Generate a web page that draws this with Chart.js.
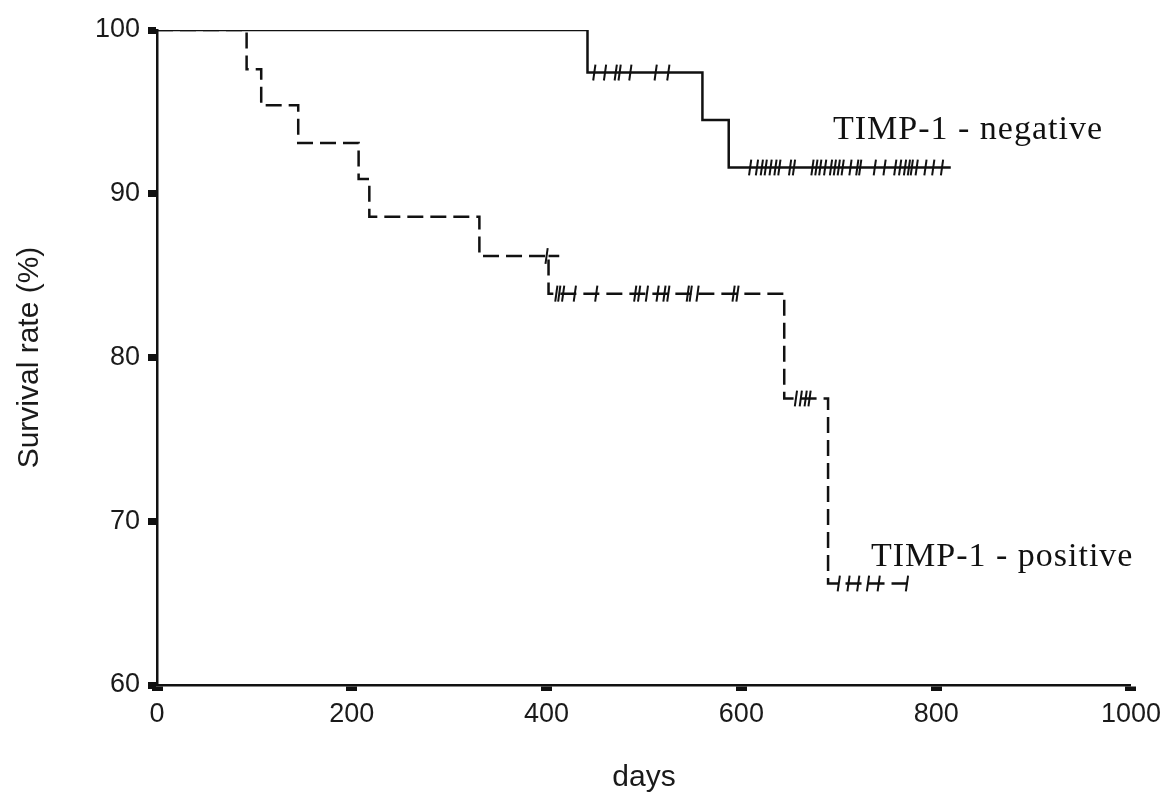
<!DOCTYPE html>
<html>
<head>
<meta charset="utf-8">
<title>TIMP-1 survival</title>
<script src="https://cdn.jsdelivr.net/npm/chart.js@4.4.1/dist/chart.umd.min.js"></script>
<style>
    html, body { margin: 0; padding: 0; background: #fff; }
    #chartWrap { width: 1168px; height: 796px; }
</style>
</head>
<body>
<div id="chartWrap"><canvas id="survivalChart" width="1168" height="796"></canvas></div>
<script>
// Kaplan-Meier steps (days, survival %)
const negDays = [0, 442, 560, 587, 815];
const negSurv = [100, 97.4, 94.5, 91.6, 91.6];
const posDays = [0, 92, 107, 145, 207, 218, 331, 402, 644, 689, 774];
const posSurv = [100, 97.6, 95.4, 93.1, 90.9, 88.6, 86.2, 83.9, 77.5, 66.2, 66.2];

// censored patients
const negCensorDays = [449, 460, 471, 475, 486, 512, 525,
    609, 616, 621, 625, 630, 635, 639, 650, 654, 673, 677, 681, 686, 692, 696,
    700, 704, 712, 719, 722, 737, 747, 758, 763, 768, 772, 775, 780, 789, 797, 806];
const negCensorSurv = [97.4, 97.4, 97.4, 97.4, 97.4, 97.4, 97.4,
    91.6, 91.6, 91.6, 91.6, 91.6, 91.6, 91.6, 91.6, 91.6, 91.6, 91.6, 91.6, 91.6, 91.6, 91.6,
    91.6, 91.6, 91.6, 91.6, 91.6, 91.6, 91.6, 91.6, 91.6, 91.6, 91.6, 91.6, 91.6, 91.6, 91.6, 91.6];
const posCensorDays = [400,
    410, 413, 417, 429, 451, 491, 495, 503, 514, 521, 525, 545, 548, 555, 592, 596,
    656, 661, 666, 670,
    700, 710, 720, 730, 741, 770];
const posCensorSurv = [86.2,
    83.9, 83.9, 83.9, 83.9, 83.9, 83.9, 83.9, 83.9, 83.9, 83.9, 83.9, 83.9, 83.9, 83.9, 83.9, 83.9,
    77.5, 77.5, 77.5, 77.5,
    66.2, 66.2, 66.2, 66.2, 66.2, 66.2];
// short piece of the 86% level left past the drop
const posStubDays = [402, 413];
const posStubSurv = [86.2, 86.2];

const xTicks = [0, 200, 400, 600, 800, 1000];
const yTicks = [60, 70, 80, 90, 100];

const groupLabels = [
    { text: 'TIMP-1 - negative', x: 694, y: 93.9 },
    { text: 'TIMP-1 - positive', x: 733, y: 67.8 }
];

const toPoints = (xs, ys) => xs.map((x, i) => ({ x: x, y: ys[i] }));

// draws the two curve labels at data positions
const curveLabels = {
    id: 'curveLabels',
    afterDatasetsDraw(chart) {
        const ctx = chart.ctx;
        const xs = chart.scales.x, ys = chart.scales.y;
        ctx.save();
        ctx.font = '34px "Liberation Serif", "Times New Roman", serif';
        ctx.letterSpacing = '1px';
        ctx.fillStyle = '#111';
        ctx.textAlign = 'left';
        ctx.textBaseline = 'middle';
        groupLabels.forEach(l => {
            ctx.fillText(l.text, xs.getPixelForValue(l.x), ys.getPixelForValue(l.y));
        });
        ctx.restore();
    }
};

const censorStyle = {
    showLine: false,
    pointStyle: 'line',
    rotation: 98,
    pointRadius: 8,
    pointBorderWidth: 2,
    pointBorderColor: '#111',
    pointBackgroundColor: '#111'
};

const tickFont = { family: '"Liberation Sans", Arial, sans-serif', size: 27 };
const titleFont = { family: '"Liberation Sans", Arial, sans-serif', size: 30 };

new Chart(document.getElementById('survivalChart'), {
    type: 'scatter',
    data: {
        datasets: [
            {
                label: 'TIMP-1 negative',
                data: toPoints(negDays, negSurv),
                showLine: true,
                stepped: 'before',
                borderColor: '#111',
                borderWidth: 2.5,
                pointRadius: 0
            },
            {
                label: 'TIMP-1 positive',
                data: toPoints(posDays, posSurv),
                showLine: true,
                stepped: 'before',
                borderColor: '#111',
                borderWidth: 2.5,
                borderDash: [16, 7],
                pointRadius: 0
            },
            {
                label: 'stub',
                data: toPoints(posStubDays, posStubSurv),
                showLine: true,
                borderColor: '#111',
                borderWidth: 2.5,
                pointRadius: 0
            },
            { label: 'negative censored', data: toPoints(negCensorDays, negCensorSurv), ...censorStyle },
            { label: 'positive censored', data: toPoints(posCensorDays, posCensorSurv), ...censorStyle }
        ]
    },
    options: {
        responsive: false,
        animation: false,
        layout: { padding: { top: 30, right: 35, left: 0, bottom: 0 } },
        plugins: {
            legend: { display: false },
            tooltip: { enabled: false }
        },
        scales: {
            x: {
                type: 'linear',
                min: 0,
                max: 1000,
                afterFit: scale => { scale.height = 111; },
                afterBuildTicks: scale => { scale.ticks = xTicks.map(v => ({ value: v })); },
                border: { display: true, color: '#111', width: 2.5 },
                grid: {
                    drawOnChartArea: false,
                    color: '#111',
                    tickColor: '#111',
                    tickLength: 6,
                    tickWidth: 11
                },
                ticks: {
                    color: '#1a1a1a',
                    font: tickFont,
                    padding: 7,
                    maxRotation: 0,
                    callback: v => String(v)
                },
                title: {
                    display: true,
                    text: 'days',
                    color: '#1a1a1a',
                    font: titleFont,
                    padding: { top: 2, bottom: 0 }
                }
            },
            y: {
                type: 'linear',
                min: 60,
                max: 100,
                afterFit: scale => { scale.width = 157; },
                afterBuildTicks: scale => { scale.ticks = yTicks.map(v => ({ value: v })); },
                border: { display: true, color: '#111', width: 2.5 },
                grid: {
                    drawOnChartArea: false,
                    color: '#111',
                    tickColor: '#111',
                    tickLength: 9,
                    tickWidth: 7
                },
                ticks: {
                    color: '#1a1a1a',
                    font: tickFont,
                    padding: 8,
                    callback: v => String(v)
                },
                title: {
                    display: true,
                    text: 'Survival rate (%)',
                    color: '#1a1a1a',
                    font: titleFont,
                    padding: { top: 12, bottom: 0 }
                }
            }
        }
    },
    plugins: [curveLabels]
});
</script>
</body>
</html>
